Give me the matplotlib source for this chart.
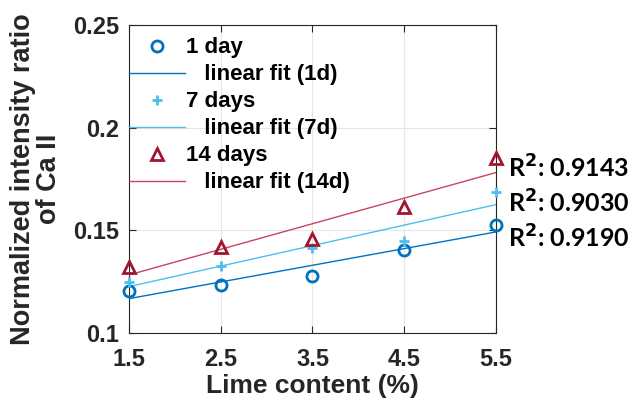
import numpy as np
import matplotlib.pyplot as plt

lime = [1.5, 2.5, 3.5, 4.5, 5.5]
ratio_1d = [0.1205, 0.1234, 0.1280, 0.1404, 0.1526]
ratio_7d = [0.1250, 0.1328, 0.1412, 0.1450, 0.1688]
ratio_14d = [0.1323, 0.1420, 0.1456, 0.1612, 0.1850]
r2_labels = ['0.9190', '0.9030', '0.9143']
r2_ypos = [0.1463, 0.1633, 0.1804]

c_1d = '#0072BD'
c_7d = '#4DBEEE'
c_14d = '#A2142F'
c_fit14 = '#C8455E'

plt.rcParams['font.family'] = ['Liberation Sans', 'DejaVu Sans']
plt.rcParams['font.weight'] = 'bold'

fig = plt.figure(figsize=(6.31, 4.07), dpi=100)
ax = fig.add_axes([0.2044, 0.1818, 0.5816, 0.7568])

x = np.array(lime)
series = [
    (ratio_1d, 'o', c_1d, c_1d, '1 day', '   linear fit (1d)'),
    (ratio_7d, '+', c_7d, c_7d, '7 days', '   linear fit (7d)'),
    (ratio_14d, '^', c_14d, c_fit14, '14 days', '   linear fit (14d)'),
]
for y, mk, col, fitcol, lab, fitlab in series:
    y = np.array(y)
    if mk == '+':
        ax.plot(x, y, mk, color=col, ms=7, mew=2, label=lab, clip_on=False, zorder=4)
    else:
        ax.plot(x, y, mk, color=col, mfc='none', ms=8, mew=2, label=lab, clip_on=False, zorder=4)
    k, b = np.polyfit(x, y, 1)
    ax.plot(x, k * x + b, '-', color=fitcol, lw=1, label=fitlab, zorder=3)

for txt, yp in zip(r2_labels, r2_ypos):
    ax.text(5.63, yp, 'R$^2$: ' + txt, fontsize=18, fontweight='bold',
            family=['Lato', 'DejaVu Sans'], va='center', ha='left', clip_on=False)

ax.set_xlim(1.5, 5.5)
ax.set_ylim(0.1, 0.25)
ax.set_xticks(lime)
ax.set_xticklabels(['1.5', '2.5', '3.5', '4.5', '5.5'])
ax.set_yticks([0.1, 0.15, 0.2, 0.25])
ax.set_yticklabels(['0.1', '0.15', '0.2', '0.25'])
ax.tick_params(direction='in', top=True, right=True, labelsize=17, length=5,
               color='#262626', labelcolor='#262626')
ax.tick_params(axis='x', pad=11)
ax.tick_params(axis='y', pad=7)
ax.grid(True, color='#e6e6e6', lw=0.8)
ax.set_axisbelow(True)
for s in ax.spines.values():
    s.set_color('#262626')
    s.set_linewidth(0.8)

ax.set_xlabel('Lime content (%)', fontsize=19, fontweight='bold', color='#262626', labelpad=2)
ax.set_ylabel('Normalized intensity ratio\nof Ca II', fontsize=19.5, fontweight='bold',
              color='#262626', labelpad=8, linespacing=1.0)

leg = ax.legend(loc='upper left', bbox_to_anchor=(0.0, 0.96), frameon=False,
                fontsize=16, handlelength=2.5, handletextpad=0.08, labelspacing=0.27,
                borderaxespad=0, borderpad=0)

fig.savefig('out.png', dpi=100)
